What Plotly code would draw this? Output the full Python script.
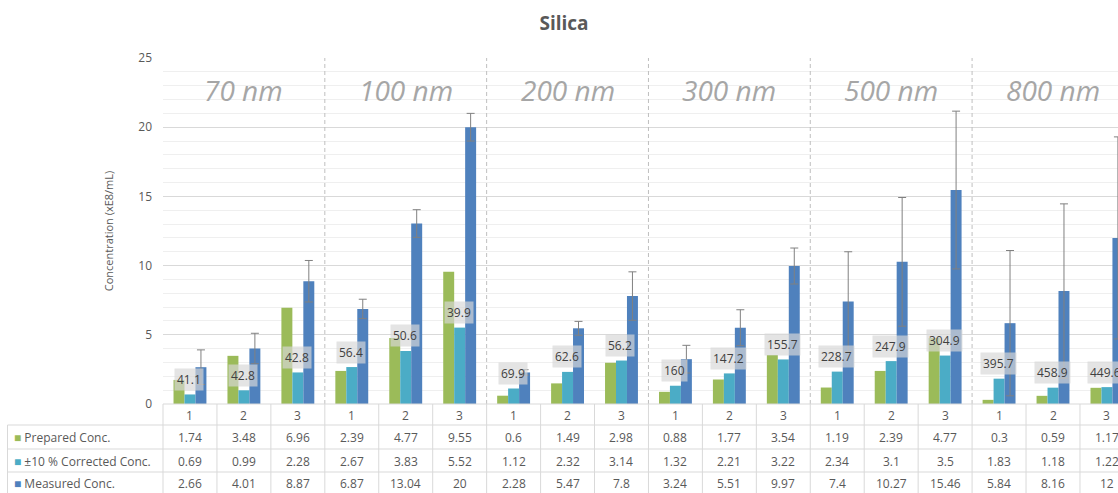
import plotly.graph_objects as go

# ---------------- data ----------------
groups = ["70 nm", "100 nm", "200 nm", "300 nm", "500 nm", "800 nm"]
replicates = ["1", "2", "3"]
prepared = [1.74, 3.48, 6.96, 2.39, 4.77, 9.55, 0.6, 1.49, 2.98, 0.88, 1.77, 3.54, 1.19, 2.39, 4.77, 0.3, 0.59, 1.17]
corrected = [0.69, 0.99, 2.28, 2.67, 3.83, 5.52, 1.12, 2.32, 3.14, 1.32, 2.21, 3.22, 2.34, 3.1, 3.5, 1.83, 1.18, 1.22]
measured = [2.66, 4.01, 8.87, 6.87, 13.04, 20, 2.28, 5.47, 7.8, 3.24, 5.51, 9.97, 7.4, 10.27, 15.46, 5.84, 8.16, 12]
measured_err = [1.25, 1.1, 1.5, 0.7, 1.0, 1.0, 0.2, 0.5, 1.75, 1.0, 1.3, 1.3, 3.6, 4.65, 5.7, 5.25, 6.3, 7.3]
callout_values = [41.1, 42.8, 42.8, 56.4, 50.6, 39.9, 69.9, 62.6, 56.2, 160, 147.2, 155.7,
                  228.7, 247.9, 304.9, 395.7, 458.9, 449.6]
series_names = ["Prepared Conc.", "±10 % Corrected Conc.", "Measured Conc."]
series_colors = ["#9bbb59", "#4bacc6", "#4f81bd"]

# ---------------- layout geometry (page pixels) ----------------
W, H = 1118, 493
ML, MR, MT, MB = 163, 0, 58, 89
PH = H - MT - MB
PW = W - ML - MR
PLOT_TOP, PLOT_BOTTOM, PLOT_LEFT = MT, MT + PH, ML
n = len(prepared)
x_max = 17.205


def py(p):  # page pixel y -> paper y
    return (PLOT_BOTTOM - p) / PH


def px(p):  # page pixel x -> paper x
    return (p - PLOT_LEFT) / PW


FONT = "Open Sans"
TXT = "#595959"
LINE = "#d9d9d9"

xs = list(range(n))
fig = go.Figure()
fig.add_trace(go.Bar(x=xs, y=prepared, name=series_names[0], marker_color=series_colors[0]))
fig.add_trace(go.Bar(x=xs, y=corrected, name=series_names[1], marker_color=series_colors[1]))
fig.add_trace(go.Bar(x=xs, y=measured, name=series_names[2], marker_color=series_colors[2],
                     error_y=dict(type="data", array=measured_err, color="#808080",
                                  thickness=1, width=4)))

shapes = []
annotations = []

# group separators (dashed)
for g in range(1, len(groups)):
    shapes.append(dict(type="line", xref="x", yref="paper", x0=3 * g - 0.5, x1=3 * g - 0.5,
                       y0=0, y1=1, line=dict(color="#bfbfbf", width=1, dash="4px,3px"), layer="above"))

# group labels
for g, name in enumerate(groups):
    annotations.append(dict(x=3 * g + 1, y=py(90), xref="x", yref="paper", text="<i>" + name + "</i>",
                            showarrow=False, font=dict(family=FONT, size=28, color="#a6a6a6"),
                            xanchor="center", yanchor="middle"))

# callout data labels on corrected series
for i, v in enumerate(callout_values):
    annotations.append(dict(x=i, y=corrected[i], xref="x", yref="y", text=f"{v:g}",
                            showarrow=False, yshift=15, xshift=-1,
                            font=dict(family=FONT, size=12, color="#404040"),
                            bgcolor="rgba(215,215,215,0.68)", borderpad=2,
                            xanchor="center", yanchor="middle"))

# ---------------- data table ----------------
row_lines_px = [425, 449, 472]
shapes.append(dict(type="line", xref="paper", yref="paper", x0=0, x1=1, y0=0, y1=0,
                   line=dict(color=LINE, width=1)))
for rp in row_lines_px:
    shapes.append(dict(type="line", xref="paper", yref="paper", x0=px(7.5), x1=1, y0=py(rp), y1=py(rp),
                       line=dict(color=LINE, width=1)))
shapes.append(dict(type="line", xref="paper", yref="paper", x0=0, x1=0, y0=0, y1=py(500),
                   line=dict(color=LINE, width=1)))
shapes.append(dict(type="line", xref="paper", yref="paper", x0=px(7.5), x1=px(7.5), y0=py(425), y1=py(500),
                   line=dict(color=LINE, width=1)))
for i in range(n):
    shapes.append(dict(type="line", xref="x", yref="paper", x0=i + 0.5, x1=i + 0.5, y0=0, y1=py(500),
                       line=dict(color=LINE, width=1)))

cat_labels = replicates * len(groups)
rows_text_py = [415, 437, 461, 484]
for i in range(n):
    annotations.append(dict(x=i, y=py(rows_text_py[0]), xref="x", yref="paper", text=cat_labels[i],
                            showarrow=False, xanchor="center", yanchor="middle",
                            font=dict(family=FONT, size=12, color=TXT)))
for r, vals in enumerate([prepared, corrected, measured]):
    for i in range(n):
        annotations.append(dict(x=i, y=py(rows_text_py[r + 1]), xref="x", yref="paper", text=f"{vals[i]:g}",
                                showarrow=False, xanchor="center", yanchor="middle",
                                font=dict(family=FONT, size=12, color=TXT)))
    annotations.append(dict(x=px(12), y=py(rows_text_py[r + 1]), xref="paper", yref="paper",
                            text=f'<span style="color:{series_colors[r]}">■</span> {series_names[r]}',
                            showarrow=False, xanchor="left", yanchor="middle",
                            font=dict(family=FONT, size=12, color=TXT)))

fig.update_layout(
    template="none",
    width=W, height=H,
    margin=dict(l=ML, r=MR, t=MT, b=MB, autoexpand=False),
    paper_bgcolor="white", plot_bgcolor="white",
    barmode="group", bargap=0.39, bargroupgap=0,
    showlegend=False,
    title=dict(text="<b>Silica</b>", xref="paper", x=px(564), xanchor="center",
               yref="container", y=1 - 23 / H, yanchor="middle",
               font=dict(family=FONT, size=19, color=TXT)),
    xaxis=dict(range=[-0.5, x_max], showticklabels=False, showgrid=False, zeroline=False,
               showline=False, ticks="", automargin=False),
    yaxis=dict(range=[0, 25], dtick=5, showgrid=True, gridcolor=LINE, gridwidth=1,
               minor=dict(dtick=1, showgrid=True, gridcolor="#efefef", ticks=""),
               zeroline=False, showline=False, ticks="", ticklabelstandoff=10, automargin=False,
               tickfont=dict(family=FONT, size=12, color=TXT),
               title=dict(text="Concentration (xE8/mL)", standoff=22,
                          font=dict(family=FONT, size=11, color=TXT))),
    shapes=shapes,
    annotations=annotations,
)

fig.write_html(
    "out.html",
    config={"displayModeBar": False},
    post_script="document.body.style.margin='0px';document.body.style.overflow='hidden';",
)
